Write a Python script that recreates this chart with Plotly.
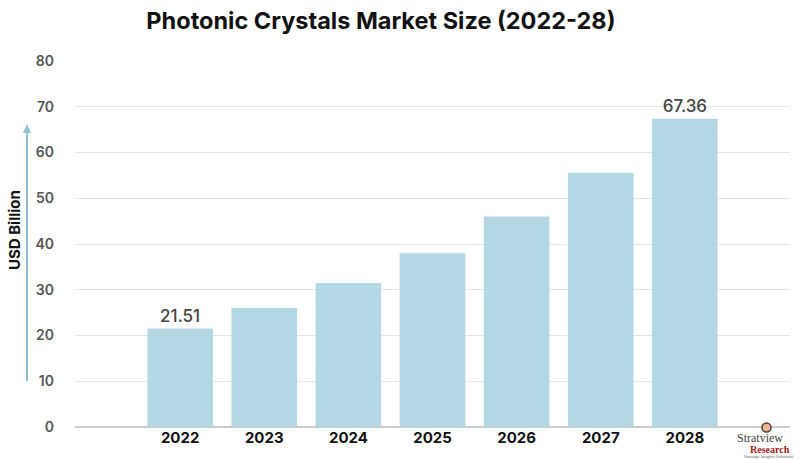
import plotly.graph_objects as go

years = ["2022", "2023", "2024", "2025", "2026", "2027", "2028"]
values = [21.51, 26.0, 31.45, 38.0, 46.0, 55.6, 67.36]
labels = ["21.51", "", "", "", "", "", "67.36"]
y_ticks = [0, 10, 20, 30, 40, 50, 60, 70, 80]

fig = go.Figure()
fig.add_trace(go.Bar(
    x=years, y=values, width=0.78,
    marker=dict(color="#b4d7e4", line=dict(width=0)),
    text=labels, textposition="outside", cliponaxis=False,
    textfont=dict(family="Inter", size=17, color="#444444", weight=500),
))

fig.update_layout(
    width=802, height=459,
    margin=dict(l=75, r=12, t=61, b=32, autoexpand=False),
    paper_bgcolor="white", plot_bgcolor="white",
    showlegend=False,
    bargap=0.2,
    title=dict(text="<b>Photonic Crystals Market Size (2022-28)</b>",
               x=0.475, xanchor="center", y=0.955, yanchor="middle",
               font=dict(family="Inter", size=23.5, color="#111111")),
    xaxis=dict(type="category", range=[-1.25, 7.25], showgrid=False,
               showline=False, ticks="", automargin=False,
               tickfont=dict(family="Inter", size=15, color="#111111", weight="bold")),
    yaxis=dict(range=[0, 80], tickvals=y_ticks, showgrid=True, gridcolor="#e6e6e6",
               zeroline=True, zerolinecolor="#cccccc", showline=False, ticks="",
               ticklabelstandoff=20, automargin=False,
               tickfont=dict(family="Inter", size=14, color="#555555", weight=600)),
)

px0, pw = 75, 715
py0, ph = 61, 366
def fx(p): return (p - px0) / pw
def fy(p): return 1 - (p - py0) / ph

fig.add_annotation(text="<b>USD Billion</b>", xref="paper", yref="paper",
                   x=fx(15), y=fy(230), textangle=-90, showarrow=False,
                   font=dict(family="Inter", size=15, color="#111111"),
                   xanchor="center", yanchor="middle")
fig.add_shape(type="line", xref="paper", yref="paper",
              x0=fx(27), x1=fx(27), y0=fy(381), y1=fy(130),
              line=dict(color="#8fbfd3", width=2))
fig.add_shape(type="path", xref="paper", yref="paper",
              path=f"M {fx(23)} {fy(133)} L {fx(31)} {fy(133)} L {fx(27)} {fy(124)} Z",
              fillcolor="#8fbfd3", line=dict(width=0))

# logo
fig.add_shape(type="circle", xref="paper", yref="paper",
              x0=fx(762), x1=fx(771), y0=fy(432), y1=fy(423),
              line=dict(color="#444444", width=1.5), fillcolor="#f2b48a")
fig.add_annotation(text="Stratview", xref="paper", yref="paper",
                   x=fx(760), y=fy(438), showarrow=False, borderpad=0,
                   xanchor="center", yanchor="middle",
                   font=dict(family="Liberation Serif", size=12, color="#444444"))
fig.add_annotation(text="<b>Research</b>", xref="paper", yref="paper",
                   x=fx(770), y=fy(449.5), showarrow=False, borderpad=0,
                   xanchor="center", yanchor="middle",
                   font=dict(family="Liberation Serif", size=10, color="#9b1b1b"))
fig.add_annotation(text="Strategic Insights Delivered", xref="paper", yref="paper",
                   x=fx(768), y=fy(456.5), showarrow=False, borderpad=0,
                   xanchor="center", yanchor="middle",
                   font=dict(family="Liberation Sans", size=4, color="#666666"))

fig.write_html("out.html", config={"displayModeBar": False},
               post_script="document.body.style.margin='0';document.body.style.overflow='hidden';")
